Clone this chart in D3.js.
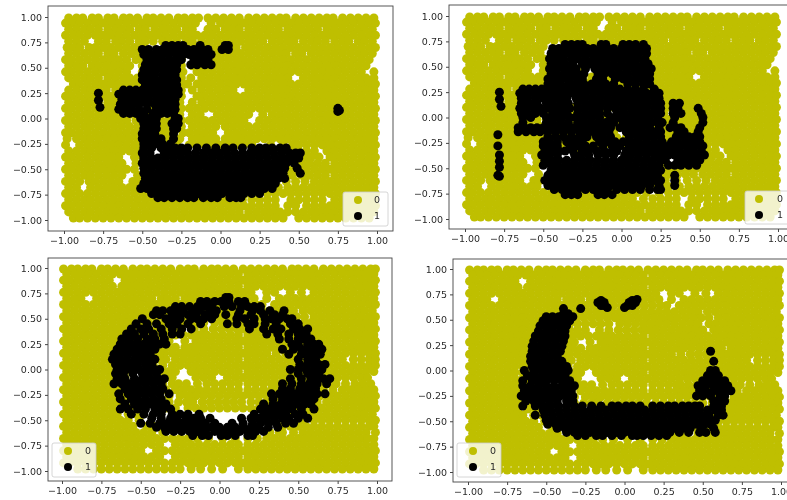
<!DOCTYPE html>
<html><head><meta charset="utf-8">
<script src="https://cdnjs.cloudflare.com/ajax/libs/d3/7.8.5/d3.min.js"></script>
<style>html,body{margin:0;padding:0;background:#fff;overflow:hidden}svg{display:block;filter:blur(.35px)}</style>
</head><body><svg id="c" width="787" height="500"></svg>
<script>
// Values are eye estimates in hundredths of an axis unit; every row is [y, x, x, ...].
const tickValues=[-1,-.75,-.5,-.25,0,.25,.5,.75,1];
const classLabels=["0","1"];
const yellowTop=[
[99,-97,-92,-88,-82,-78,-72,-68,-62,-58,-53,-47,-43,-38,-33,-27,-23,-18,-14,-8,-3,2,7,12,18,23,28,33,38,42,48,53,58,63,68,72,78,83,88,93,98],
[94,-99,-95,-90,-85,-80,-75,-70,-65,-60,-55,-50,-45,-40,-35,-30,-25,-20,-16,-6,0,5,10,15,20,25,30,35,40,45,50,55,60,65,70,75,80,85,90,95,99],
[88,-97,-92,-87,-83,-78,-72,-67,-63,-58,-52,-48,-42,-37,-33,-28,-22,-18,-8,-3,3,8,12,18,23,28,32,37,43,48,52,57,62,68,73,78,83,88,92,97],
[82,-99,-94,-90,-85,-80,-75,-70,-65,-60,-55,-50,-45,-40,-35,-30,-25,-20,-15,-10,-5,0,5,10,15,20,25,30,35,40,45,50,55,60,65,70,75,80,85,90,95,99],
[76,-97,-92,-87,-78,-73,-67,-63,-58,-52,-48,-43,-37,-33,-28,-22,-18,-12,-7,-2,3,8,13,18,22,27,33,38,43,47,53,58,62,67,73,78,82,88,92,97],
[70,-98,-94,-90,-84,-80,-75,-70,-65,-60,-55,-50,-25,-20,-15,-10,-5,0,5,10,16,20,25,30,35,40,45,50,55,60,65,70,75,80,85,90,95,99],
[64,-97,-92,-87,-82,-78,-72,-68,-62,-57,-52,-26,-18,-12,-7,-2,3,8,13,18,23,28,33,38,42,48,52,58,63,68,73,78,83,88,92,97],
[58,-99,-95,-90,-85,-80,-75,-70,-65,-60,-54,-50,-25,-16,-10,-5,0,5,10,15,20,25,30,35,40,45,50,55,60,65,70,75,80,85,90,95],
[52,-97,-92,-88,-82,-78,-73,-68,-63,-58,-50,-25,-18,-12,-7,-2,3,8,13,18,23,28,33,38,43,48,53,58,63,68,73,78,83,88,93],
[46,-99,-95,-90,-85,-80,-75,-70,-65,-60,-50,-24,-15,-10,-5,0,5,10,15,20,25,30,35,40,45,50,55,60,65,70,75,80,85,90,98],
[40,-97,-92,-87,-83,-78,-72,-67,-62,-58,-53,-48,-25,-19,-12,-7,-2,3,8,13,18,23,28,33,38,43,53,58,63,68,73,78,83,88,93,98],
[34,-94,-90,-85,-80,-75,-70,-65,-60,-55,-50,-24,-21,-15,-10,-5,0,5,10,15,20,25,30,35,40,45,50,55,60,65,70,75,80,85,90,95,99],
[28,-97,-92,-87,-83,-78,-73,-67,-62,-25,-18,-12,-7,-2,3,8,18,23,28,33,38,43,48,53,58,63,68,73,78,83,88,93,98],
[22,-99,-95,-90,-85,-80,-75,-70,-66,-25,-15,-10,-5,0,5,10,15,20,25,30,35,40,45,50,55,60,65,70,75,80,85,90,95,99],
[16,-97,-92,-87,-83,-78,-72,-68,-26,-18,-12,-7,-2,3,8,13,18,23,28,33,38,43,48,53,58,63,68,73,78,83,88,93,98],
[10,-99,-95,-90,-85,-80,-75,-70,-66,-25,-20,-15,-10,-5,0,5,10,15,20,25,30,35,40,45,50,55,60,65,70,75,80,85,90,95,99],
[4,-97,-92,-87,-83,-78,-73,-68,-63,-58,-53,-26,-18,-13,-2,3,8,13,18,27,33,38,43,48,53,58,63,68,73,78,83,88,93,98],
[-2,-99,-95,-90,-85,-80,-75,-70,-65,-60,-54,-25,-20,-15,-10,-5,0,5,10,15,25,30,35,40,45,50,55,60,65,70,75,80,85,90,95,99],
[-8,-97,-92,-87,-83,-78,-73,-68,-63,-58,-53,-25,-18,-13,-8,-3,3,8,13,18,23,28,33,38,43,48,53,58,63,68,73,78,83,88,93,98],
[-14,-99,-95,-90,-85,-80,-75,-70,-65,-60,-55,-24,-20,-15,-10,-5,5,10,15,20,25,30,35,40,45,50,55,60,65,70,75,80,85,90,95,99],
[-20,-98,-92,-87,-83,-78,-73,-68,-63,-58,-53,-26,-18,-13,-8,-3,3,8,13,18,23,28,33,38,43,48,53,58,63,68,73,78,83,88,93,98],
[-26,-99,-90,-85,-80,-75,-70,-65,-60,-55,-50,-28,-20,-15,-10,-5,0,5,10,15,20,32,40,46,50,55,60,65,70,75,80,85,90,95,99],
[-32,-97,-92,-87,-83,-78,-73,-68,-63,-58,-53,-27,50,55,60,68,73,78,83,88,93,98],
[-38,-99,-95,-90,-85,-80,-75,-70,-65,-55,-50,54,58,63,70,75,80,85,90,95,99],
[-44,-97,-92,-87,-83,-78,-73,-68,-63,-54,52,57,62,67,73,78,83,88,93,98],
[-50,-99,-95,-90,-85,-80,-75,-70,-65,-60,-55,55,60,65,70,75,80,85,90,95,99],
[-56,-97,-92,-87,-83,-78,-73,-68,-63,-53,52,57,62,67,73,78,83,88,93,98],
[-62,-99,-95,-90,-84,-80,-75,-70,-65,-56,-52,28,35,42,48,54,60,65,70,75,80,85,90,95,99],
[-68,-97,-92,-83,-78,-73,-68,-63,-58,-54,-28,30,37,43,48,53,58,63,68,73,78,83,88,93,98],
[-74,-99,-95,-90,-85,-80,-75,-70,-65,-60,-55,-50,-45,-43,16,24,30,35,40,45,50,55,60,65,70,75,80,85,90,95,99],
[-80,-97,-92,-87,-83,-78,-73,-68,-63,-58,-53,-48,-43,14,20,25,30,35,45,50,55,60,65,73,78,83,88,93,98],
[-86,-99,-95,-90,-85,-80,-75,-70,-65,-60,-55,-50,-45,-40,-35,-30,-25,-20,-15,-10,-5,0,5,10,15,20,25,30,35,43,48,55,60,65,70,75,80,85,90,95,99],
[-92,-97,-92,-87,-83,-78,-73,-68,-63,-58,-53,-48,-43,-38,-33,-28,-23,-18,-13,-8,-3,2,7,12,18,23,28,33,38,43,48,53,58,63,68,73,78,83,88,93,98],
[-98,-94,-90,-85,-80,-75,-70,-65,-60,-55,-50,-45,-40,-35,-30,-25,-20,-15,-10,-5,0,5,10,15,20,25,30,35,40,50,55,60,65,70,75,80,85,90,95]
];
const yellowTopInfill=[
[10,-45,-40,-35,-30],[4,-48,-43,-38,-33],[-2,-48,-43,-38,-33],[-8,-46,-41,-36,-31],[-14,-48,-43,-38,-33],
[-20,-48,-42,-36,-31],[-26,-45,-38,-33],[-32,45],[-50,28,33,38,43,48,52],[-56,26,31,36,41,46],
[-62,23],[-68,25,20,15],[-74,-40,-35,-30,-25,-20,-15,-10,-5,0,5,10],[-80,-38,-33,-28,-23,-18,-13,-8,-3,2,7]
];
const blackA=[
[72,-35,-31,-27,-24,-13,3,5],
[68,-50,-46,-41,-37,-33,-29,-25,-21,-17,-12,-8,1,5],
[63,-49,-45,-41,-37,-33,-28,-24,-20,-15,-11,-6],
[58,-47,-42,-38,-33,-29,-25,-17,-13,-8],
[53,-48,-44,-40,-36,-32,-28,-19,-15,-10,-6],
[48,-49,-45,-41,-36,-32,-28],
[43,-50,-46,-42,-37,-33,-29],
[38,-50,-46,-42,-38,-33,-28],
[33,-48,-44,-40,-36,-32,-28],
[28,-62,-58,-54,-50,-46,-42,-38,-34,-30,-27],
[24,-65,-61,-57,-53,-49,-45,-40,-36,-31,-27],
[19,-63,-59,-55,-50,-46,-41,-37,-33,-29],
[14,-64,-60,-56,-52,-47,-42,-38,-34,-29],
[9,-65,-61,-57,-52,-47,-41,-36,-31,-29],
[5,-62,-58,-54,-49,-43,-38,-34,-30],
[0,-51,-46,-41,-29,-27],
[-5,-49,-45,-41,-31,-27],
[-10,-49,-45,-41,-30,-28],
[-15,-50,-46,-42,-30],
[-20,-50,-46,-42,-38,-30],
[-25,-49,-45,-40,-37,-32],
[-29,-49,-44,-38,-33,-29,-25,-21,-15,-9,-3,3,8,14,20,25,29,33,38,42],
[-34,-50,-45,-36,-31,-26,-21,-16,-11,-6,-1,4,9,14,19,24,29,34,39,44,48,51],
[-39,-49,-44,-40,-35,-30,-25,-20,-15,-10,-5,0,5,10,15,20,25,30,35,40,45,50],
[-44,-50,-46,-41,-36,-31,-26,-21,-16,-11,-6,-1,4,9,14,19,24,29,34,38,42,47],
[-49,-49,-44,-39,-34,-29,-24,-19,-14,-9,-4,1,6,11,16,21,26,31,36,41,49],
[-54,-49,-45,-40,-35,-30,-25,-20,-15,-10,-5,0,5,10,15,20,25,30,35,40,51],
[-59,-48,-43,-38,-33,-28,-23,-18,-13,-8,-3,2,7,12,17,22,27,32,37,41],
[-64,-49,-45,-40,-35,-30,-25,-20,-15,-10,-5,0,5,10,15,20,25,30,35],
[-69,-51,-47,-42,-37,-32,-27,-22,-17,-12,-7,-2,3,8,13,18,23,28,33],
[-74,-44,-39,-34,-29,-24,-19,-14,-9,-4,1,6,11,15,20,25],
[-78,-40,-36,-31,-26,-21,-17,-11,-6,-2,6,10,13],
[25,-78],[18,-78],[11,-77],[10,75],[8,76],[7,75]
];
const blackB=[
[72,-36,-32,-28,-25,-13,-10,1,5,9,14],
[68,-44,-40,-35,-30,-26,-22,-18,-13,-9,-5,0,4,9,13,16],
[63,-45,-41,-37,-33,-28,-24,-19,-15,-11,-6,-2,3,7,11,16],
[58,-46,-42,-37,-32,-28,-23,-18,-14,-9,-4,1,6,10,15],
[53,-45,-40,-36,-31,-25,-20,-15,-10,-5,0,5,9,14,17],
[48,-46,-42,-37,-33,-29,-23,-17,-12,-7,-2,3,8,12,16,19],
[43,-45,-41,-36,-32,-28,-24,-15,-11,-6,-1,4,9,13,18],
[38,-47,-42,-38,-33,-28,-25,-16,-12,-4,1,5,10,15,18],
[33,-47,-44,-39,-34,-29,-24,-19,-14,-10,-5,4,9,14,18],
[28,-63,-59,-55,-51,-46,-41,-36,-31,-26,-21,-16,-11,-6,-1,4,9,14,21],
[24,-65,-60,-56,-52,-47,-42,-37,-32,-27,-23,-18,-13,-8,-3,2,7,12,16,20,24],
[19,-64,-60,-55,-50,-45,-40,-35,-29,-24,-19,-14,-9,-4,1,6,11,16,21,24],
[14,-64,-59,-54,-48,-44,-39,-34,-28,-23,-18,-13,-8,-3,2,7,12,17,22,25,33,37],
[9,-65,-61,-56,-52,-47,-42,-37,-33,-28,-24,-19,-14,-9,-4,1,6,11,16,21,25,33,36,49],
[4,-64,-60,-55,-50,-44,-40,-35,-28,-23,-18,-14,-9,-3,2,7,12,17,22,25,33,38,51],
[0,-63,-58,-48,-43,-38,-33,-29,-24,-19,-14,-7,-2,3,8,13,18,23,34,52],
[-5,-63,-48,-44,-39,-34,-28,-24,-20,-15,-10,-5,1,5,10,14,19,23,26,33,52],
[-10,-66,-62,-58,-54,-50,-46,-41,-36,-31,-26,-21,-17,-12,-7,-1,3,8,13,18,24,31,35,38,50],
[-14,-66,-61,-56,-52,-47,-42,-37,-32,-27,-23,-18,-13,-8,3,8,13,18,22,25,36,40,49],
[-19,-47,-42,-37,-32,-27,-22,-16,-12,-7,5,10,15,20,25,35,40,43,47,50],
[-24,-50,-46,-41,-35,-30,-25,-14,-9,-4,1,6,11,16,21,26,32,36,41,45,50],
[-28,-50,-45,-41,-33,-28,-23,-18,-12,-6,-1,5,10,15,20,25,30,34,38,42,47,52],
[-33,-49,-45,-40,-36,-31,-25,-21,-16,-11,-6,-3,3,7,12,17,22,27,32,37,42,46,51],
[-37,-51,-46,-41,-30,-26,-21,-15,-10,-5,2,6,11,16,21,25,30,34,39,44,48,53],
[-42,-49,-45,-40,-35,-30,-25,-20,-15,-10,-5,0,5,10,15,20,25,28,36,41,45,50],
[-47,-50,-45,-41,-36,-31,-26,-21,-16,-11,-6,-1,4,9,14,19,24,30,34,38,43,48],
[-52,-45,-40,-35,-30,-25,-20,-15,-10,-5,0,5,10,15,20,25],
[-57,-47,-42,-37,-32,-27,-22,-17,-12,-7,-2,3,8,13,18,23,34],
[-62,-49,-44,-39,-34,-29,-24,-19,-14,-9,-4,1,6,11,16,21,25,34],
[-67,-47,-42,-37,-32,-27,-22,-17,-12,-7,-2,3,8,13,18,24,34],
[-71,-43,-38,-33,-28,-23,-18,-14,-9,-3,2,7,12,18,23,25],
[-76,-36,-32,-28,-15,-11,-6],
[25,-78],[18,-78],[11,-77],[-17,-79],[-28,-79],[-37,-78],[-43,-78],[-49,-78],[-57,-79],[-58,-78]
];
const yellowBottom=[
[99,-99,-94,-90,-85,-81,-75,-71,-66,-61,-55,-50,-46,-41,-36,-31,-25,-20,-16,-10,-5,-1,4,9,15,20,25,30,35,40,46,50,55,60,66,71,76,81,86,91,96,99],
[94,-97,-92,-88,-83,-78,-73,-68,-63,-58,-53,-48,-43,-38,-33,-28,-23,-18,-13,-8,-3,2,7,12,18,23,28,33,38,43,48,53,58,63,68,73,78,83,88,93,98],
[88,-99,-95,-90,-85,-80,-75,-70,-60,-55,-50,-45,-40,-35,-30,-25,-20,-15,-10,-5,0,5,10,15,20,25,30,35,40,45,50,55,60,65,70,75,80,85,90,95,99],
[82,-97,-92,-87,-83,-78,-73,-68,-62,-58,-53,-48,-43,-38,-33,-28,-23,-18,-13,-8,-3,2,7,12,18,23,28,33,38,43,48,53,58,63,68,73,78,83,88,93,98],
[76,-99,-95,-90,-85,-80,-75,-70,-65,-60,-55,-50,-45,-40,-35,-30,-25,-20,-15,-10,-5,0,5,10,15,20,30,35,45,52,60,65,70,75,80,85,90,95,99],
[70,-97,-92,-88,-78,-73,-68,-63,-58,-53,-48,-43,-37,-33,-28,-22,-18,-13,-8,-3,-3,22,30,38,43,48,53,58,63,68,73,78,83,88,93,98],
[64,-99,-95,-90,-85,-80,-75,-70,-65,-60,-55,-50,-45,-40,-35,-30,-25,-20,-17,27,35,40,45,50,55,60,65,70,75,80,85,90,95,99],
[58,-97,-92,-87,-83,-78,-73,-68,-63,-58,-53,-48,-43,37,42,47,53,58,63,68,73,78,83,88,92,97],
[52,-99,-95,-90,-85,-80,-75,-70,-65,-60,-55,-50,-46,-3,-1,4,49,54,60,65,70,75,80,85,90,95,99],
[46,-97,-92,-87,-83,-78,-73,-68,-63,-58,-55,-3,2,7,54,58,63,68,73,78,83,88,93,98],
[40,-99,-95,-90,-85,-80,-75,-70,-65,-60,-25,-16,-10,-4,1,6,11,15,57,60,65,70,75,80,85,90,95,99],
[34,-97,-92,-87,-83,-78,-73,-68,-63,-18,-13,-8,-3,2,7,12,18,23,58,63,68,73,78,83,88,93,98],
[28,-99,-95,-90,-85,-80,-75,-70,-65,-32,-22,-15,-10,-5,0,5,10,15,20,25,30,60,65,70,75,80,85,90,95,99],
[22,-97,-92,-87,-83,-78,-73,-68,-33,-28,-22,-18,-13,-8,-3,2,7,12,18,23,28,33,62,68,73,78,83,88,93,98],
[16,-99,-95,-90,-85,-80,-75,-70,-35,-30,-25,-20,-15,-10,-5,0,5,10,15,20,25,30,36,42,65,70,75,80,85,90,95,99],
[10,-97,-92,-87,-83,-78,-73,-34,-28,-23,-18,-13,-8,-3,2,7,12,18,23,28,33,38,68,73,78,85,90,95,99],
[4,-99,-95,-90,-85,-80,-75,-70,-36,-30,-25,-20,-15,-10,-5,0,5,10,15,20,25,30,35,40,66,70,75,80,85,90,95,99],
[-2,-97,-92,-87,-83,-78,-73,-70,-36,-32,-28,-18,-13,-8,-3,2,7,12,18,23,28,33,38,68,73,78,83,88,93,98],
[-8,-99,-95,-90,-85,-80,-75,-70,-34,-30,-15,-10,-5,5,10,15,20,25,30,35,40,70,75,80,85,90,94],
[-14,-97,-92,-87,-83,-78,-73,-68,-30,-26,-21,-14,-8,-3,2,7,12,18,23,28,33,36,70,74,80,86,91,96],
[-20,-99,-95,-90,-85,-80,-75,-70,-66,-28,-23,-18,-13,-8,-3,2,7,12,18,23,28,33,66,72,78,83,88,93,98],
[-26,-97,-92,-87,-83,-78,-73,-68,-25,-20,-15,-10,-5,0,5,10,15,20,25,64,70,75,80,85,90,95,99],
[-32,-99,-95,-90,-85,-80,-75,-70,-26,-21,-17,-11,-6,-1,4,9,14,20,62,68,73,78,83,88,93,98],
[-38,-97,-92,-87,-83,-78,-73,-68,-62,-28,-20,-15,-10,-5,0,5,10,60,65,70,75,80,85,90,95,99],
[-44,-99,-95,-90,-85,-80,-75,-70,-65,-58,58,63,68,73,78,83,88,92,97],
[-50,-97,-92,-87,-83,-78,-73,-68,-63,-58,-51,52,60,65,70,75,80,85,90,95,99],
[-56,-99,-95,-90,-85,-80,-75,-70,-65,-60,-55,-46,45,50,55,60,65,70,75,80,85,90,95,98],
[-62,-97,-92,-87,-83,-78,-73,-68,-63,-58,-53,-48,-43,-36,40,47,53,58,63,68,73,78,83,88,93,99],
[-68,-99,-95,-90,-85,-80,-75,-70,-65,-60,-55,-50,-45,-40,-35,-30,-25,-20,-14,-7,2,10,18,24,30,35,40,45,50,55,60,65,70,75,80,85,90,94,98],
[-74,-97,-92,-87,-83,-78,-73,-68,-63,-58,-53,-48,-43,-38,-28,-23,-18,-13,-8,-3,2,7,12,18,23,28,33,38,43,48,53,58,63,68,73,78,83,88,93,98],
[-80,-99,-95,-90,-85,-80,-75,-70,-65,-60,-55,-50,-40,-35,-30,-25,-20,-15,-10,-5,0,5,10,15,20,25,30,35,40,45,50,55,60,65,70,75,80,85,90,95,99],
[-86,-97,-92,-87,-83,-78,-73,-68,-63,-58,-53,-48,-43,-38,-28,-23,-18,-13,-8,-3,2,7,12,18,23,28,33,38,43,48,53,58,63,68,73,78,83,88,93,98],
[-92,-99,-95,-90,-85,-80,-75,-70,-65,-60,-55,-50,-45,-40,-35,-30,-25,-20,-15,-10,-5,0,5,10,15,20,25,30,35,40,45,50,55,60,65,70,75,80,85,90,95,99],
[-98,-90,-85,-80,-75,-70,-65,-60,-55,-50,-45,-40,-35,-30,-25,-18,-12,-5,2,12,18,23,28,33,38,43,48,53,58,63,68,73,78,83,88,93,98]
];
const yellowBottomInfill=[
[70,2,7,12,17],
[64,-12,-7,-2,3,8,13,18,23],
[58,-38,-33,-28,-23,-18,-13,-8,-3,2,7,12,17,22,27,32],
[52,-41,-36,-31,-26,-21,-16,-11,-6,9,14,19,24,29,34,39,44],
[46,-50,-45,-40,-35,-30,-25,-20,-15,-10,12,17,22,27,32,37,42,47],
[40,-55,-50,-45,-40,-35,-30,20,25,30,35,40,45,50],
[34,-58,-53,-48,-43,-38,-33,-28,-23,28,33,38,43,48,53],
[28,-60,-55,-50,-45,-40,-36,35,40,45,50,55],
[22,-63,-58,-53,-42,-38,38,43,48,53,58],
[16,-65,-60,-42,-38,47,52,57,61],
[10,-68,-63,-42,-38,43,48,53,58,63],
[4,-65,-60,-42,45,50,55,61],
[-2,-65,-60,-42,43,48,53,58,63],
[-8,-65,-60,-40,45,50,55,60,65],
[-14,-63,-58,-36,41,46,51,56,61,66],
[-20,-61,-56,-34,38,43,48,53,58,62],
[-26,-63,-58,-32,30,35,40,45,50,55,60],
[-32,-65,-60,-32,25,30,35,40,45,50,56],
[-38,-57,-34,15,20,25,30,35,40,45,50,55],
[-44,-53,45,50,54],
[-56,-42,40],[-62,32,38]
];
const blackC=[
[71,4,6],
[67,-12,-8,-3,1,6,12,16],
[62,-28,-24,-19,-14,-10,-5,3,8,14,18,22,26],
[58,-40,-36,-31,-27,-23,-17,-13,-6,-2,13,21,26,32,41],
[54,-42,-38,-30,-25,-20,-15,-9,-3,4,12,20,28,35,40],
[50,-49,-34,-29,-25,-18,-14,-10,-5,11,16,22,29,33,38,43,46],
[45,-53,-46,-40,-32,-27,-20,-12,5,11,18,22,29,36,45,50],
[40,-56,-50,-45,-37,-30,-24,-18,19,28,34,39,47,51,56],
[35,-59,-54,-48,-42,-36,-30,-25,30,37,44,50,55],
[30,-62,-57,-52,-46,-41,-35,38,44,50,54,58],
[25,-63,-58,-53,-48,-43,-38,-34,46,50,56,60,63],
[20,-65,-61,-56,-51,-46,-41,40,47,52,56,61,65],
[15,-67,-63,-58,-53,-48,-44,44,52,57,61,64],
[10,-68,-64,-59,-54,-50,-45,-41,50,56,61],
[5,-66,-62,-57,-52,-47,-43,51,56,60,63,67],
[0,-65,-60,-56,-51,-46,-41,-38,45,50,55,60,65],
[-4,-66,-61,-55,-49,-45,-40,50,56,60,63],
[-9,-65,-60,-54,-49,-44,-39,-35,45,52,58,62,66,70],
[-14,-67,-62,-57,-52,-47,-42,-37,40,46,52,57,62,68],
[-19,-60,-56,-51,-46,-41,-36,40,45,51,56,61],
[-24,-64,-58,-53,-48,-43,-38,-32,33,38,43,48,53,58,62,67],
[-29,-63,-56,-52,-47,-42,-37,34,40,45,50,55,60],
[-34,-60,-54,-49,-44,-39,-34,28,34,39,44,49,54,58],
[-39,-63,-58,-52,-47,-41,-36,-31,26,31,36,41,46,52,60],
[-44,-56,-48,-42,-37,-30,-25,-20,-13,22,28,33,38,42,48,53],
[-48,-43,-37,-31,-27,-21,-16,-12,-6,14,20,25,30,35,40,44,50,56],
[-53,-50,-44,-38,-33,-28,-24,-19,-14,-9,-3,8,15,21,26,31,36,42,47],
[-57,-40,-35,-30,-25,-20,-15,-10,-5,0,5,10,15,20,25,31,37],
[-61,-34,-29,-24,-19,-14,-9,-3,2,8,13,18,23,28],
[-65,-17,-11,-7,1,5,10,18,21]
];
const blackD=[
[70,8],
[69,-15,5],
[67,-17,-13,3,7],
[64,-15,-13,2,5],
[62,-11,0],
[61,-39,-28],
[56,-39,-36],
[53,-50,-46,-42,-37,-33],
[49,-52,-48,-44,-40,-35],
[44,-54,-49,-45,-41,-37],
[39,-55,-50,-46,-41,-38],
[34,-57,-52,-47,-42,-38],
[29,-58,-53,-49,-44,-39],
[24,-59,-54,-50,-45,-40],
[19,-59,-55,-51,-46,-41,55],
[14,-60,-56,-51,-47,-43],
[9,-60,-56,-52,-48,-43,-40,57],
[4,-59,-55,-50,-45,-41,-37],
[0,-64,-58,-53,-49,-44,-40,-36,55,58],
[-5,-62,-57,-52,-47,-43,-38,53,57,60],
[-10,-65,-59,-54,-50,-45,-40,-35,50,55,60,64],
[-15,-65,-60,-55,-50,-45,-40,-36,-32,47,52,57,62,66],
[-20,-64,-59,-54,-49,-44,-39,-34,48,52,57,60,65,68],
[-25,-66,-61,-56,-51,-46,-41,-36,-33,46,50,55,61,64],
[-30,-63,-58,-53,-48,-43,-37,-33,57,61,64],
[-35,-65,-57,-52,-47,-42,-37,-32,-27,-21,-15,-8,-4,1,5,10,18,23,28,32,37,41,45,48,57,62],
[-39,-52,-47,-42,-37,-32,-27,-22,-17,-12,-7,-2,3,8,13,18,23,28,33,38,43,48,53,58,62],
[-44,-57,-51,-46,-41,-36,-31,-26,-21,-16,-11,-6,-1,4,9,14,19,24,29,34,39,44,49,54,60,63],
[-49,-50,-45,-40,-35,-30,-25,-20,-15,-10,-5,0,5,10,15,20,25,30,35,40,45,50,54,58],
[-53,-49,-44,-39,-34,-29,-24,-19,-14,-9,-4,1,6,11,16,21,26,31,36,41,46,51,55],
[-57,-43,-38,-33,-28,-23,-18,-13,-8,-3,2,7,12,17,22,27,32,37,42,49,57],
[-61,-37,-32,-27,-22,-16,-11,-5,0,4,9,14,19,24,29,35,41,48,52,58],
[-64,-30,-25,-18,-14,-8,-2,5,8,12,17,22,27]
];
const toPoints=rows=>rows.flatMap(r=>r.slice(1).map(x=>[x/100,r[0]/100]));
const layout=[
 {box:[48,6,393,231],x:[64,377],y:[220,17],yellow:yellowTop.concat(yellowTopInfill),black:blackA,legend:[343,192,45,34,358,377]},
 {box:[449,5,794,229],x:[465,778],y:[219,16],yellow:yellowTop.concat(yellowTopInfill),black:blackB,legend:[745,191,60,33,759,780]},
 {box:[48,258,392,481],x:[62,377],y:[471,268],yellow:yellowBottom.concat(yellowBottomInfill),black:blackC,legend:[52,443,44,34,68,88]},
 {box:[453,259,800,482],x:[468,781],y:[472,269],yellow:yellowBottom.concat(yellowBottomInfill),black:blackD,legend:[457,443,44,34,473,493]}
];
const fmt=v=>d3.format(".2f")(v).replace("-","\u2212");
const svg=d3.select("#c");
const YEL="#bfbf00",INK="#2a2a2a",R=4.5;
layout.forEach(p=>{
 const [l,t,r,b]=p.box;
 const xs=d3.scaleLinear().domain([-1,1]).range(p.x);
 const ys=d3.scaleLinear().domain([-1,1]).range(p.y);
 const g=svg.append("g");
 const dots=(rows,c)=>g.append("g").selectAll("circle").data(toPoints(rows)).join("circle")
   .attr("cx",d=>xs(d[0])).attr("cy",d=>ys(d[1])).attr("r",R).attr("fill",c);
 dots(p.yellow,YEL);dots(p.black,"#000");
 g.append("rect").attr("x",l).attr("y",t).attr("width",r-l).attr("height",b-t)
  .attr("fill","none").attr("stroke","#444").attr("stroke-width",.9);
 const ax=g.append("g").attr("transform",`translate(0,${b})`)
  .call(d3.axisBottom(xs).tickValues(tickValues).tickFormat(fmt).tickSize(3).tickPadding(3));
 const ay=g.append("g").attr("transform",`translate(${l},0)`)
  .call(d3.axisLeft(ys).tickValues(tickValues).tickFormat(fmt).tickSize(3).tickPadding(3));
 [ax,ay].forEach(a=>{a.select(".domain").remove();
  a.selectAll("line").attr("stroke","#444");
  a.selectAll("text").attr("fill",INK).style("font","9.5px 'DejaVu Sans'");});
 const [lx,ly,lw,lh,mx,tx]=p.legend;
 g.append("rect").attr("x",lx).attr("y",ly).attr("width",lw).attr("height",lh).attr("rx",2)
  .attr("fill","#fff").attr("fill-opacity",.8).attr("stroke","#ccc").attr("stroke-width",.8);
 classLabels.forEach((s,i)=>{
  const cy=ly+8+i*16;
  g.append("circle").attr("cx",mx).attr("cy",cy).attr("r",4).attr("fill",i?"#000":YEL);
  g.append("text").attr("x",tx).attr("y",cy+3.3).attr("text-anchor","middle").attr("fill",INK)
   .style("font","9.5px 'DejaVu Sans'").text(s);
 });
});
</script></body></html>
